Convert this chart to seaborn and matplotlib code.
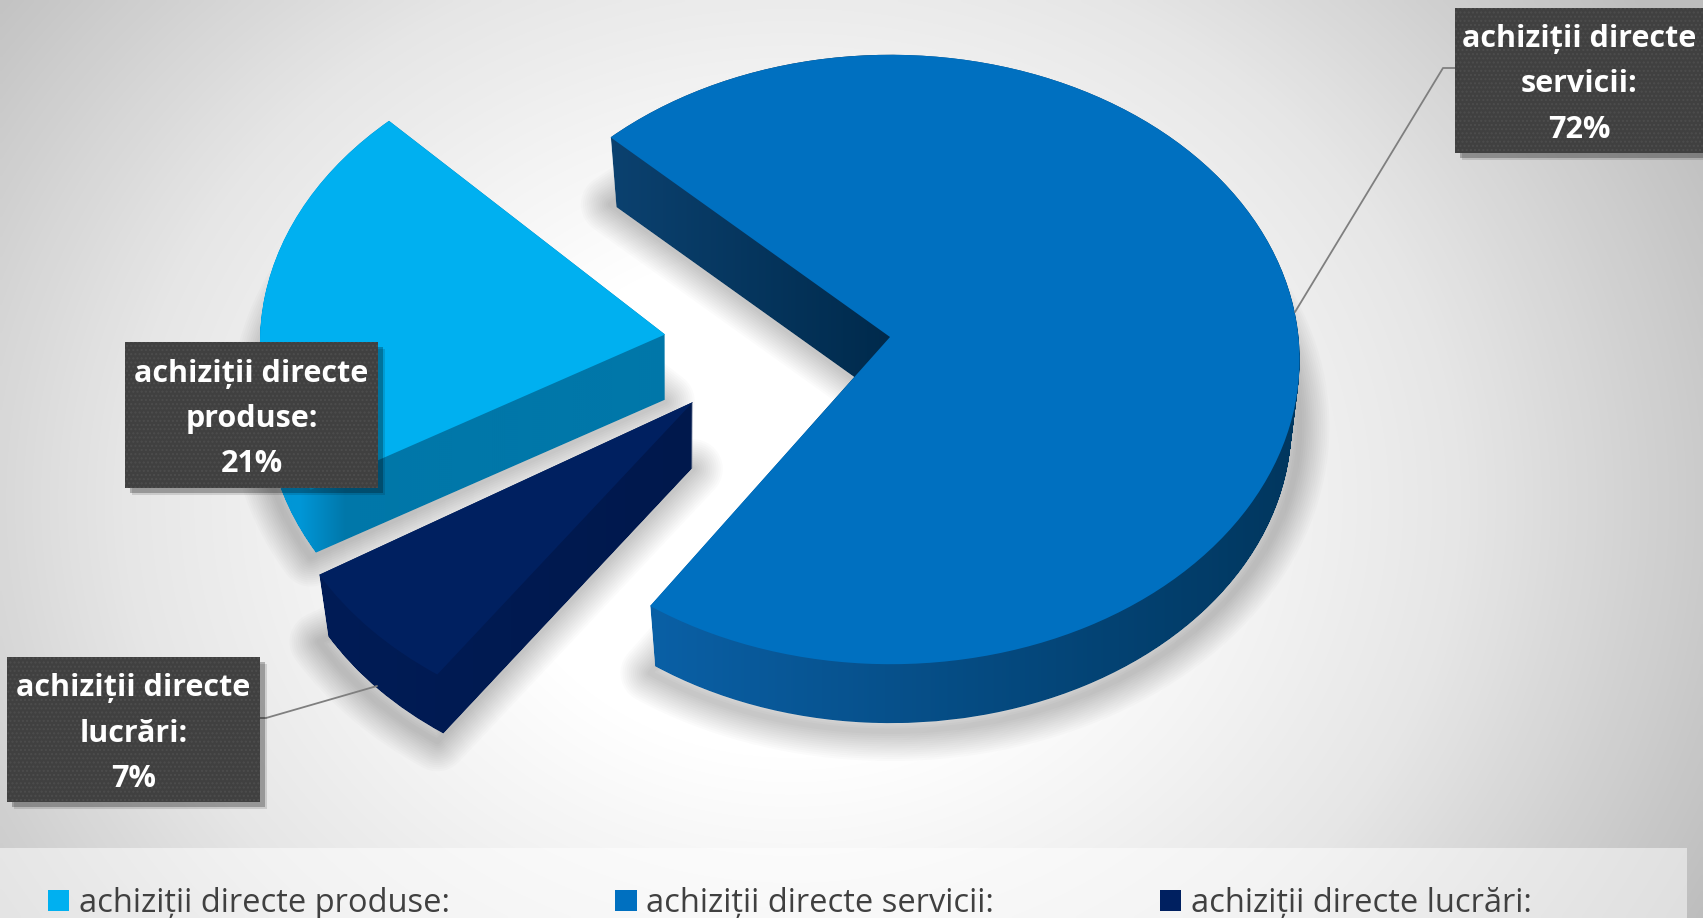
import numpy as np
import matplotlib
matplotlib.use("Agg")
import matplotlib.pyplot as plt
from matplotlib.colors import LinearSegmentedColormap as LSC
from matplotlib.patches import Rectangle, PathPatch
from matplotlib.path import Path
import seaborn as sns

# ---- data
CATEGORIES = ["achiziții directe produse:", "achiziții directe servicii:", "achiziții directe lucrări:"]
BOX_LABELS = ["achiziții directe\nproduse:\n21%", "achiziții directe\nservicii:\n72%", "achiziții directe\nlucrări:\n7%"]
VALUES = [21, 72, 7]

# ---- style / layout (pixels of the 1703x918 picture)
TOP_COLORS = ["#00B0F0", "#0070C0", "#002060"]
W, H = 1703, 918
SQUASH = 0.745
RADIUS = 409
DEPTH = 65
ARC_CENTERS = [(669, 343), (890.6, 359.5), (677.7, 428)]
APEXES = [(665, 334.5), (890, 337), (693, 402)]
WALL_SHRINK = [0.985, 0.98, 0.975]
START_ANGLE = 208.8

sns.set_theme(style="white")
plt.rcParams["font.family"] = ["Open Sans", "DejaVu Sans"]

fig = plt.figure(figsize=(W / 100, H / 100), dpi=100)
ax = fig.add_axes([0, 0, 1, 1])


def dy(py):
    return (H - py) / SQUASH


def to_data(p, shift=0):
    return (p[0], dy(p[1] + shift))


def pie_layer(shift=0, zorder=5, **props):
    wedges, _ = ax.pie(VALUES, colors=sns.color_palette(TOP_COLORS), radius=RADIUS,
                       startangle=START_ANGLE, counterclock=False, wedgeprops=props)
    for w, c, a in zip(wedges, ARC_CENTERS, APEXES):
        w.set_center(to_data(c, shift))
        path = w.get_path()
        path.vertices[-2:] = to_data(a, shift)
        w.set_zorder(zorder)
    return wedges


# background: radial grey-white gradient
yy, xx = np.mgrid[0:H:4, 0:W:4]
r = np.hypot((xx - 790) / 1.0, (yy - 500) / 0.85)
bg = np.clip((r - 300) / 740, 0, 1)
bg_cmap = LSC.from_list("bg", ["#ffffff", "#e6e6e6", "#bdbdbd"])
ax.imshow(bg, cmap=bg_cmap, vmin=0, vmax=1, extent=(0, W, dy(H), dy(0)), aspect="auto",
          origin="upper", zorder=0, interpolation="bilinear")

# soft shadows
for lw in range(4, 46, 3):
    pie_layer(shift=DEPTH + 2, zorder=2, facecolor="none", edgecolor=(0, 0, 0, 0.016),
              linewidth=lw, joinstyle="round")

# top faces
tops = pie_layer(zorder=6, linewidth=0)

# extruded walls: the face outline swept downwards, filled with a gradient
yw, xw = np.mgrid[0:H:2, 0:W:2]
def ramp(x0, x1, c0, c1):
    t = np.clip((xw - x0) / (x1 - x0), 0, 1)[..., None]
    return (1 - t) * np.array(matplotlib.colors.to_rgb(c0)) + t * np.array(matplotlib.colors.to_rgb(c1))

img_prod = ramp(300, 345, "#0096D6", "#0077A9")
img_serv = ramp(650, 1290, "#0A60A6", "#01375F")
cut = ramp(615, 890, "#0B416F", "#002A4C")
mask = (xw < 895) & (yw < 430)
img_serv[mask] = cut[mask]
img_luc = ramp(320, 700, "#001C56", "#00184C")
for w, img, shrink, c in zip(tops, [img_prod, img_serv, img_luc], WALL_SHRINK, ARC_CENTERS):
    base = w.get_path()
    centre = np.array(to_data(c))
    layers = []
    for d in range(0, DEPTH + 1):
        s = 1 - (1 - shrink) * d / DEPTH
        layers.append(Path(centre + (base.vertices - centre) * s - (0, d / SQUASH), base.codes))
    swept = Path.make_compound_path(*layers)
    clip = PathPatch(swept, transform=ax.transData, facecolor="none", edgecolor="none")
    ax.add_patch(clip)
    im = ax.imshow(img, extent=(0, W, dy(H), dy(0)), aspect="auto", origin="upper",
                   zorder=4, interpolation="bilinear")
    im.set_clip_path(clip)

# translucent strip behind the legend
ax.add_patch(Rectangle((0, dy(H)), 1687, dy(848) - dy(H), facecolor="white", alpha=0.5,
                       edgecolor="none", zorder=1))

# leader lines
ax.plot([1295, 1443, 1455], [dy(312), dy(68), dy(68)], color="#7f7f7f", lw=1.3, zorder=7)
ax.plot([377, 266, 260], [dy(686), dy(718), dy(718)], color="#7f7f7f", lw=1.3, zorder=7)

# label boxes
BOXES = [(125, 342, 378, 488), (1455, 8, 1710, 153), (7, 657, 260, 802)]
for (x0, y0, x1, y1), label in zip(BOXES, BOX_LABELS):
    for off, a in ((7, 0.12), (5, 0.25)):
        ax.add_patch(Rectangle((x0 + off, dy(y1 + off)), x1 - x0, dy(y0) - dy(y1),
                               facecolor="black", alpha=a, edgecolor="none", zorder=8))
    ax.add_patch(Rectangle((x0, dy(y1)), x1 - x0, dy(y0) - dy(y1), facecolor="#404040",
                           edgecolor="#4d4d4d", hatch="....", linewidth=0, zorder=9))
    cx = (x0 + min(x1, 1703)) / 2
    ax.text(cx, dy((y0 + y1) / 2 + 4), label, ha="center", va="center", color="white",
            fontsize=22, fontweight="bold", linespacing=1.66, zorder=10)

ax.set_xlim(0, W)
ax.set_ylim(dy(H), dy(0))
ax.set_aspect("auto")
ax.axis("off")

leg = ax.legend(tops, CATEGORIES, ncol=3, loc="lower left",
                bbox_to_anchor=(48 / W, -2 / H), frameon=False, fontsize=23.5,
                labelcolor="#404040", handlelength=0.65, handleheight=0.65,
                handletextpad=0.3, columnspacing=5.07, borderaxespad=0, borderpad=0)
leg.set_zorder(11)

fig.savefig("out.png", dpi=100)
